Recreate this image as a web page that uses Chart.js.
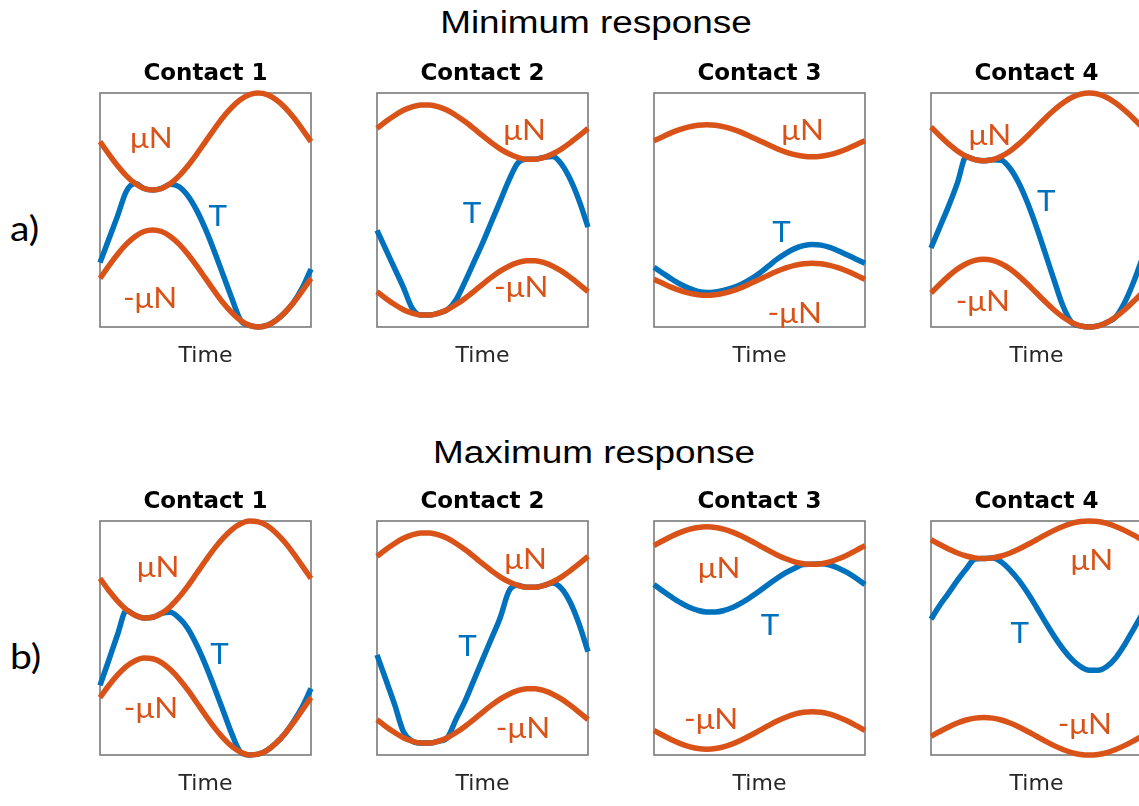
<!DOCTYPE html>
<html>
<head>
<meta charset="utf-8">
<title>Contact response</title>
<script src="https://cdn.jsdelivr.net/npm/chart.js@4/dist/chart.umd.min.js"></script>
<style>
  html, body { margin: 0; padding: 0; background: #fff; }
  body { position: relative; width: 1139px; height: 806px; overflow: hidden; }
  canvas.panel { position: absolute; }
  .rowTitle {
    position: absolute; white-space: nowrap; line-height: 1;
    font-family: "Liberation Sans", Arial, sans-serif; font-size: 31px; color: #000;
    transform: translate(-50%, -50%) scaleX(1.19);
  }
  .rowTag {
    position: absolute; white-space: nowrap; line-height: 1;
    font-family: Lato, "Open Sans", sans-serif; font-size: 34px; color: #000;
    transform-origin: left center; transform: translateY(-50%) scaleX(1.15);
  }
</style>
</head>
<body>
<script>
// ---- text ----
const rowTitles = ['Minimum response', 'Maximum response'];
const rowTags = ['a)', 'b)'];
const panelTitles = ['Contact 1', 'Contact 2', 'Contact 3', 'Contact 4'];
const xAxisTitle = 'Time';

// ---- sampled time steps (one load cycle) ----
const timeSteps = [0,1,2,3,4,5,6,7,8,9,10,11,12,13,14,15,16,17,18,19,20,21,22,23,24];

// ---- a) minimum response ----
const a1_muN    = [0.585,0.478,0.378,0.292,0.226,0.184,0.170,0.184,0.226,0.292,0.378,0.478,0.585,0.692,0.793,0.878,0.944,0.986,1.000,0.986,0.944,0.878,0.793,0.692,0.585];
const a1_negMuN = [-0.585,-0.478,-0.378,-0.292,-0.226,-0.184,-0.170,-0.184,-0.226,-0.292,-0.378,-0.478,-0.585,-0.692,-0.793,-0.878,-0.944,-0.986,-1.000,-0.986,-0.944,-0.878,-0.793,-0.692,-0.585];
const a1_T      = [-0.450,-0.250,-0.050,0.160,0.226,0.184,0.170,0.184,0.220,0.199,0.121,-0.003,-0.164,-0.352,-0.554,-0.756,-0.944,-0.986,-1.000,-0.986,-0.944,-0.878,-0.791,-0.667,-0.505];

const a2_muN    = [0.697,0.756,0.808,0.852,0.882,0.898,0.898,0.882,0.852,0.808,0.756,0.697,0.635,0.576,0.523,0.480,0.450,0.434,0.434,0.450,0.480,0.523,0.576,0.635,0.697];
const a2_negMuN = [-0.697,-0.756,-0.808,-0.852,-0.882,-0.898,-0.898,-0.882,-0.852,-0.808,-0.756,-0.697,-0.635,-0.576,-0.523,-0.480,-0.450,-0.434,-0.434,-0.450,-0.480,-0.523,-0.576,-0.635,-0.697];
const a2_T      = [-0.174,-0.336,-0.499,-0.661,-0.840,-0.898,-0.898,-0.882,-0.852,-0.766,-0.614,-0.449,-0.284,-0.105,0.074,0.253,0.400,0.434,0.434,0.450,0.457,0.390,0.260,0.078,-0.146];

const a3_muN    = [0.592,0.627,0.661,0.689,0.711,0.724,0.729,0.724,0.711,0.689,0.661,0.627,0.592,0.557,0.524,0.495,0.473,0.460,0.455,0.460,0.473,0.495,0.524,0.557,0.592];
const a3_negMuN = [-0.592,-0.627,-0.661,-0.689,-0.711,-0.724,-0.729,-0.724,-0.711,-0.689,-0.661,-0.627,-0.592,-0.557,-0.524,-0.495,-0.473,-0.460,-0.455,-0.460,-0.473,-0.495,-0.524,-0.557,-0.592];
const a3_T      = [-0.490,-0.540,-0.590,-0.635,-0.670,-0.695,-0.705,-0.700,-0.686,-0.664,-0.632,-0.590,-0.540,-0.480,-0.420,-0.370,-0.330,-0.305,-0.295,-0.300,-0.320,-0.350,-0.385,-0.420,-0.455];

const a4_muN    = [0.710,0.635,0.565,0.505,0.459,0.430,0.420,0.430,0.459,0.505,0.565,0.635,0.710,0.785,0.855,0.915,0.961,0.990,1.000,0.990,0.961,0.915,0.855,0.785,0.710];
const a4_negMuN = [-0.710,-0.635,-0.565,-0.505,-0.459,-0.430,-0.420,-0.430,-0.459,-0.505,-0.565,-0.635,-0.710,-0.785,-0.855,-0.915,-0.961,-0.990,-1.000,-0.990,-0.961,-0.915,-0.855,-0.785,-0.710];
const a4_T      = [-0.325,-0.146,0.033,0.230,0.455,0.430,0.420,0.430,0.425,0.355,0.229,0.058,-0.146,-0.371,-0.600,-0.818,-0.961,-0.990,-1.000,-0.990,-0.961,-0.915,-0.795,-0.624,-0.420];

// ---- b) maximum response ----
const b1_muN    = [0.509,0.406,0.316,0.243,0.194,0.171,0.177,0.210,0.270,0.350,0.446,0.553,0.661,0.764,0.854,0.927,0.976,0.999,0.993,0.960,0.900,0.820,0.724,0.617,0.509];
const b1_negMuN = [-0.509,-0.406,-0.316,-0.243,-0.194,-0.171,-0.177,-0.210,-0.270,-0.350,-0.446,-0.553,-0.661,-0.764,-0.854,-0.927,-0.976,-0.999,-0.993,-0.960,-0.900,-0.820,-0.724,-0.617,-0.509];
const b1_T      = [-0.405,-0.190,0.030,0.235,0.194,0.171,0.177,0.210,0.220,0.170,0.080,-0.060,-0.230,-0.420,-0.620,-0.820,-0.976,-0.999,-0.993,-0.960,-0.900,-0.820,-0.715,-0.590,-0.432];

const b2_muN    = [0.697,0.756,0.808,0.852,0.882,0.898,0.898,0.882,0.852,0.808,0.756,0.697,0.635,0.576,0.523,0.480,0.450,0.434,0.434,0.450,0.480,0.523,0.576,0.635,0.697];
const b2_negMuN = [-0.697,-0.756,-0.808,-0.852,-0.882,-0.898,-0.898,-0.882,-0.852,-0.808,-0.756,-0.697,-0.635,-0.576,-0.523,-0.480,-0.450,-0.434,-0.434,-0.450,-0.480,-0.523,-0.576,-0.635,-0.697];
const b2_T      = [-0.144,-0.355,-0.568,-0.800,-0.882,-0.898,-0.898,-0.882,-0.852,-0.693,-0.542,-0.364,-0.185,-0.007,0.171,0.400,0.450,0.434,0.434,0.450,0.470,0.422,0.301,0.117,-0.117];

const b3_muN    = [0.790,0.831,0.870,0.903,0.929,0.945,0.950,0.945,0.929,0.903,0.870,0.831,0.790,0.749,0.710,0.677,0.651,0.635,0.630,0.635,0.651,0.677,0.710,0.749,0.790];
const b3_negMuN = [-0.790,-0.831,-0.870,-0.903,-0.929,-0.945,-0.950,-0.945,-0.929,-0.903,-0.870,-0.831,-0.790,-0.749,-0.710,-0.677,-0.651,-0.635,-0.630,-0.635,-0.651,-0.677,-0.710,-0.749,-0.790];
const b3_T      = [0.457,0.402,0.350,0.302,0.263,0.236,0.222,0.222,0.236,0.263,0.302,0.350,0.402,0.457,0.510,0.558,0.597,0.628,0.630,0.635,0.624,0.597,0.558,0.510,0.457];

const b4_muN    = [0.840,0.799,0.760,0.727,0.701,0.685,0.680,0.685,0.701,0.727,0.760,0.799,0.840,0.881,0.920,0.953,0.979,0.995,1.000,0.995,0.979,0.953,0.920,0.881,0.840];
const b4_negMuN = [-0.840,-0.799,-0.760,-0.727,-0.701,-0.685,-0.680,-0.685,-0.701,-0.727,-0.760,-0.799,-0.840,-0.881,-0.920,-0.953,-0.979,-0.995,-1.000,-0.995,-0.979,-0.953,-0.920,-0.881,-0.840];
const b4_T      = [0.160,0.280,0.384,0.492,0.590,0.675,0.680,0.684,0.650,0.581,0.492,0.384,0.263,0.137,0.016,-0.092,-0.181,-0.244,-0.276,-0.276,-0.244,-0.170,-0.060,0.070,0.200];

// ---- where each curve name sits, in (time step, value) ----
const labelSpots = {
  a1: { muN: [5.85, 0.61],  T: [13.4, -0.06], negMuN: [5.7, -0.76] },
  a2: { muN: [16.8, 0.674], T: [10.8, -0.036], negMuN: [16.4, -0.664] },
  a3: { muN: [16.9, 0.674], T: [14.5, -0.194], negMuN: [16.0, -0.89] },
  a4: { muN: [6.7, 0.632],  T: [13.1, 0.068], negMuN: [5.9, -0.787] },
  b1: { muN: [6.6, 0.597],  T: [13.6, -0.144], negMuN: [5.8, -0.61] },
  b2: { muN: [16.9, 0.665], T: [10.3, -0.075], negMuN: [16.6, -0.775] },
  b3: { muN: [7.4, 0.59],   T: [13.2, 0.103], negMuN: [6.5, -0.70] },
  b4: { muN: [18.3, 0.658], T: [10.1, 0.035], negMuN: [17.5, -0.747] }
};

// ---- styling & layout ----
const ORANGE = '#D95319';
const BLUE = '#0072BD';
const BOX_COLOR = '#7a7a7a';
const colLeft = [100, 377, 654, 931];
const rowTop = [93, 521];
const BOX_W = 211, BOX_H = 242;
const SIDE = 20, HEAD = 40, FOOT = 40;

const panels = [
  { id: 'a1', row: 0, col: 0, muN: a1_muN, negMuN: a1_negMuN, T: a1_T },
  { id: 'a2', row: 0, col: 1, muN: a2_muN, negMuN: a2_negMuN, T: a2_T },
  { id: 'a3', row: 0, col: 2, muN: a3_muN, negMuN: a3_negMuN, T: a3_T },
  { id: 'a4', row: 0, col: 3, muN: a4_muN, negMuN: a4_negMuN, T: a4_T },
  { id: 'b1', row: 1, col: 0, muN: b1_muN, negMuN: b1_negMuN, T: b1_T },
  { id: 'b2', row: 1, col: 1, muN: b2_muN, negMuN: b2_negMuN, T: b2_T },
  { id: 'b3', row: 1, col: 2, muN: b3_muN, negMuN: b3_negMuN, T: b3_T },
  { id: 'b4', row: 1, col: 3, muN: b4_muN, negMuN: b4_negMuN, T: b4_T }
];

// row headings and tags
const rowTitleCenter = [[596, 22], [594, 452]];
const rowTagPos = [[10, 228], [10, 656]];
rowTitles.forEach((txt, i) => {
  const d = document.createElement('div');
  d.className = 'rowTitle';
  d.textContent = txt;
  d.style.left = rowTitleCenter[i][0] + 'px';
  d.style.top = rowTitleCenter[i][1] + 'px';
  document.body.appendChild(d);
});
rowTags.forEach((txt, i) => {
  const d = document.createElement('div');
  d.className = 'rowTag';
  d.textContent = txt;
  d.style.left = rowTagPos[i][0] + 'px';
  d.style.top = rowTagPos[i][1] + 'px';
  document.body.appendChild(d);
});

const toPoints = arr => timeSteps.map((t, i) => ({ x: t, y: arr[i] }));

// frame around the plotting area, drawn under the curves
const framePlugin = {
  id: 'frame',
  beforeDatasetsDraw(chart) {
    const { ctx, chartArea: a } = chart;
    ctx.save();
    ctx.strokeStyle = BOX_COLOR;
    ctx.lineWidth = 1.6;
    ctx.strokeRect(a.left, a.top, a.right - a.left, a.bottom - a.top);
    ctx.restore();
  }
};

// curve names written inside the plot
function curveLabels(spots) {
  const items = [
    { text: 'μN', color: ORANGE, at: spots.muN },
    { text: 'T', color: BLUE, at: spots.T },
    { text: '-μN', color: ORANGE, at: spots.negMuN }
  ];
  return {
    id: 'curveLabels',
    afterDatasetsDraw(chart) {
      const { ctx } = chart;
      const xs = chart.scales.x, ys = chart.scales.y;
      ctx.save();
      ctx.font = '28px Lato, "Open Sans", sans-serif';
      ctx.textAlign = 'center';
      ctx.textBaseline = 'middle';
      for (const it of items) {
        const px = xs.getPixelForValue(it.at[0]);
        const py = ys.getPixelForValue(it.at[1]);
        ctx.save();
        ctx.translate(px, py);
        ctx.scale(1.12, 1);
        ctx.fillStyle = it.color;
        ctx.fillText(it.text, 0, 0);
        ctx.restore();
      }
      ctx.restore();
    }
  };
}

const lineStyle = (color, order) => ({
  borderColor: color,
  borderWidth: 5.5,
  pointRadius: 0,
  fill: false,
  cubicInterpolationMode: 'monotone',
  borderCapStyle: 'butt',
  borderJoinStyle: 'round',
  clip: false,
  order: order
});

panels.forEach(p => {
  const cv = document.createElement('canvas');
  cv.className = 'panel';
  const w = BOX_W + 2 * SIDE, h = BOX_H + HEAD + FOOT;
  cv.width = w; cv.height = h;
  cv.style.width = w + 'px'; cv.style.height = h + 'px';
  cv.style.left = (colLeft[p.col] - SIDE) + 'px';
  cv.style.top = (rowTop[p.row] - HEAD) + 'px';
  document.body.appendChild(cv);

  new Chart(cv, {
    type: 'line',
    data: {
      datasets: [
        Object.assign({ label: 'μN', data: toPoints(p.muN) }, lineStyle(ORANGE, 1)),
        Object.assign({ label: '-μN', data: toPoints(p.negMuN) }, lineStyle(ORANGE, 1)),
        Object.assign({ label: 'T', data: toPoints(p.T) }, lineStyle(BLUE, 2))
      ]
    },
    options: {
      responsive: false,
      animation: false,
      devicePixelRatio: 1,
      events: [],
      layout: { padding: { left: SIDE, right: SIDE, top: 0, bottom: 0 } },
      plugins: {
        legend: { display: false },
        tooltip: { enabled: false },
        title: {
          display: true,
          text: panelTitles[p.col],
          color: '#000',
          font: { family: '"DejaVu Sans", sans-serif', size: 23, weight: 'bold', lineHeight: 1.2 },
          padding: { top: 7.2, bottom: 5.2 }
        }
      },
      scales: {
        x: {
          type: 'linear', min: 0, max: 24,
          grid: { display: false },
          border: { display: false },
          ticks: { display: false },
          title: {
            display: true,
            text: xAxisTitle,
            color: '#262626',
            font: { family: '"DejaVu Sans", sans-serif', size: 22, lineHeight: 1.2 },
            padding: { top: 7.8, bottom: 5.8 }
          }
        },
        y: { display: false, min: -1, max: 1 }
      }
    },
    plugins: [framePlugin, curveLabels(labelSpots[p.id])]
  });
});
</script>
</body>
</html>
